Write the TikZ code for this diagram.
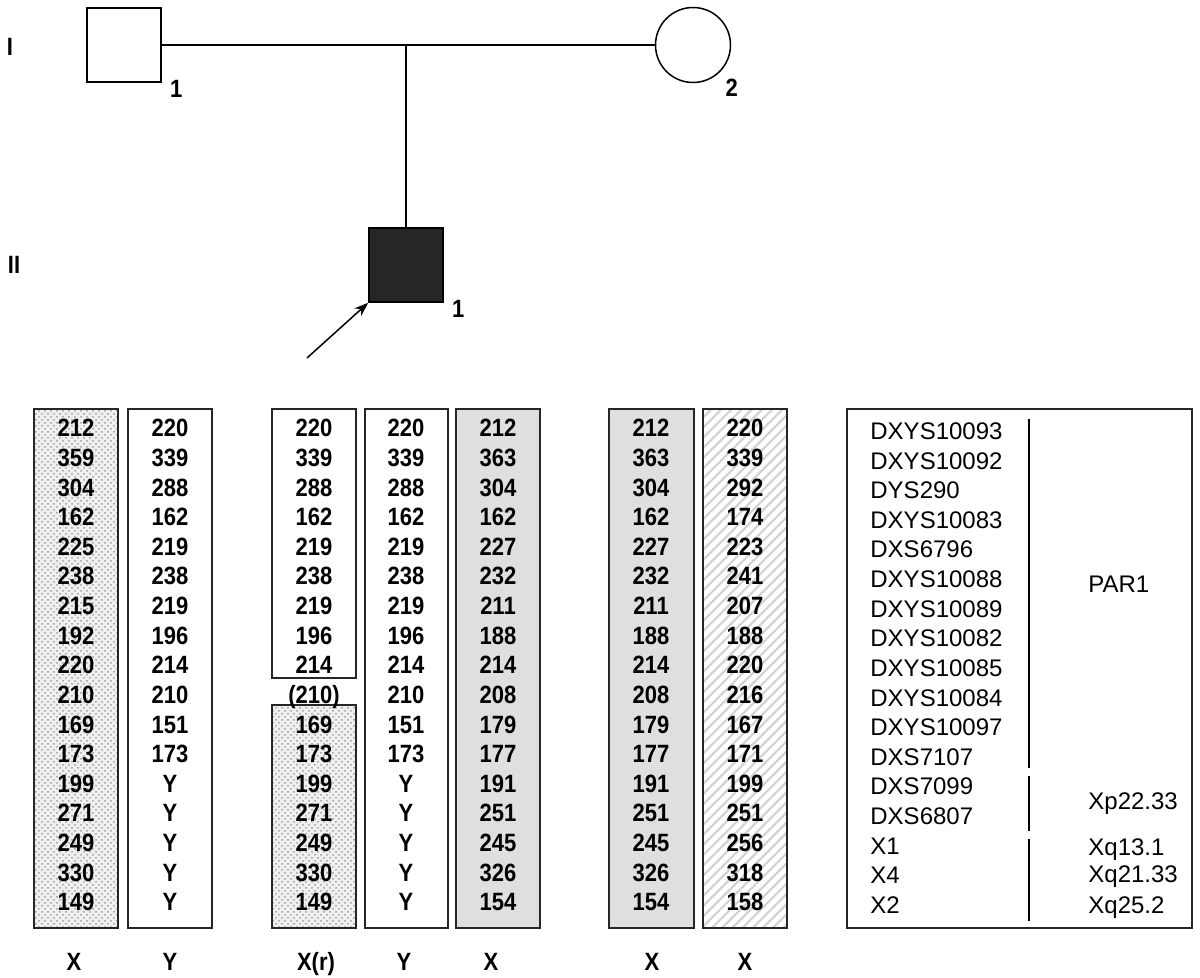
\documentclass[tikz,border=0pt]{standalone}
\usepackage{fontspec}
\setmainfont{Liberation Sans}
\newfontfamily\narrowsans[FakeStretch=0.88]{Liberation Sans}
\usetikzlibrary{positioning,patterns,patterns.meta,arrows.meta}

\tikzset{
  allele/.style={font=\narrowsans\bfseries\fontsize{12.5}{14}\selectfont,inner sep=0pt,anchor=base},
  pednum/.style={font=\narrowsans\bfseries\fontsize{12.5}{14}\selectfont,inner sep=0pt},
  locus/.style={font=\fontsize{12}{14}\selectfont,inner sep=0pt,anchor=base west},
  colbox/.style={draw=black!85,line width=1pt},
  dotbox/.style={colbox,preaction={fill=gray!12},pattern=crosshatch dots,pattern color=gray!75},
  greybox/.style={colbox,fill=gray!25},
  hatchbox/.style={colbox,pattern={Lines[angle=45,distance=3.6pt,line width=1.1pt]},pattern color=gray!35},
  person/.style={draw,line width=0.75pt,minimum size=37pt,inner sep=0pt},
}

\begin{document}
\begin{tikzpicture}[x=0.5pt,y=-0.5pt]
	\useasboundingbox (0,0) rectangle (1200,978);

	% pedigree
	\node [person]                        (I1)  at (124,45)  {};
	\node [person,circle,minimum size=37.5pt] (I2) at (693,45) {};
	\node [person,fill=black!85]          (II1) at (406,265) {};
	\coordinate (I2corner) at (I2.east |- I2.south);
	\node [pednum,below right=-1.5pt and 4pt of I1.south east]  (I1num)  {1};
	\node [pednum,below right=-2.5pt and -3pt of I2corner]      (I2num)  {2};
	\node [pednum,below right=-1.5pt and 4pt of II1.south east] (II1num) {1};
	\node [pednum] (genI)  at (10,47)  {I};
	\node [pednum] (genII) at (14,265) {II};
	\coordinate (proband) at (307,358);

	\draw [line width=0.75pt] (I1.east) -- (I2.west);
	\draw [line width=0.75pt] (I1.east -| II1.north) -- (II1.north);
	\draw [line width=0.75pt,-{Stealth[length=7pt,width=5pt]}] (proband) -- (II1.south west);

	% haplotype columns
	\draw [dotbox]   (34,409)  rectangle (118,928);
	\draw [colbox]   (128,409) rectangle (212,928);
	\draw [colbox]   (272,409) rectangle (356,678);
	\draw [dotbox]   (272,705) rectangle (356,928);
	\draw [colbox]   (365,409) rectangle (448,928);
	\draw [greybox]  (456,409) rectangle (540,928);
	\draw [greybox]  (609,409) rectangle (694,928);
	\draw [hatchbox] (703,409) rectangle (787,928);

	\foreach \v [count=\i] in {212,359,304,162,225,238,215,192,220,210,169,173,199,271,249,330,149}
		\node [allele] (a\i) at (76,{407.4+29.6*\i}) {\v};
	\foreach \v [count=\i] in {220,339,288,162,219,238,219,196,214,210,151,173,Y,Y,Y,Y,Y}
		\node [allele] (b\i) at (170,{407.4+29.6*\i}) {\v};
	\foreach \v [count=\i] in {220,339,288,162,219,238,219,196,214,(210),169,173,199,271,249,330,149}
		\node [allele] (c\i) at (314,{407.4+29.6*\i}) {\v};
	\foreach \v [count=\i] in {220,339,288,162,219,238,219,196,214,210,151,173,Y,Y,Y,Y,Y}
		\node [allele] (d\i) at (406,{407.4+29.6*\i}) {\v};
	\foreach \v [count=\i] in {212,363,304,162,227,232,211,188,214,208,179,177,191,251,245,326,154}
		\node [allele] (e\i) at (498,{407.4+29.6*\i}) {\v};
	\foreach \v [count=\i] in {212,363,304,162,227,232,211,188,214,208,179,177,191,251,245,326,154}
		\node [allele] (f\i) at (651,{407.4+29.6*\i}) {\v};
	\foreach \v [count=\i] in {220,339,292,174,223,241,207,188,220,216,167,171,199,251,256,318,158}
		\node [allele] (g\i) at (745,{407.4+29.6*\i}) {\v};

	\node [allele] (xa) at (74,970)  {X};
	\node [allele] (ya) at (170,970) {Y};
	\node [allele] (xr) at (316,970) {X(r)};
	\node [allele] (yb) at (404,970) {Y};
	\node [allele] (xb) at (491,970) {X};
	\node [allele] (xc) at (652,970) {X};
	\node [allele] (xd) at (745,970) {X};

	% marker legend
	\draw [colbox] (847,409) rectangle (1192,928);
	\foreach \m [count=\i] in {DXYS10093,DXYS10092,DYS290,DXYS10083,DXS6796,DXYS10088,DXYS10089,
		DXYS10082,DXYS10085,DXYS10084,DXYS10097,DXS7107,DXS7099,DXS6807,X1,X4,X2}
		\node [locus] (m\i) at (870,{410+29.6*\i}) {\m};
	\draw [line width=0.75pt] (1029,419) -- (1029,768);
	\draw [line width=0.75pt] (1029,776) -- (1029,831);
	\draw [line width=0.75pt] (1029,839) -- (1029,921);
	\node [locus] (par1) at (1088,593) {PAR1};
	\node [locus] (xp)   at (1088,809) {Xp22.33};
	\node [locus] (xq1)  at (1088,855) {Xq13.1};
	\node [locus] (xq2)  at (1088,882) {Xq21.33};
	\node [locus] (xq3)  at (1088,913) {Xq25.2};
\end{tikzpicture}
\end{document}
